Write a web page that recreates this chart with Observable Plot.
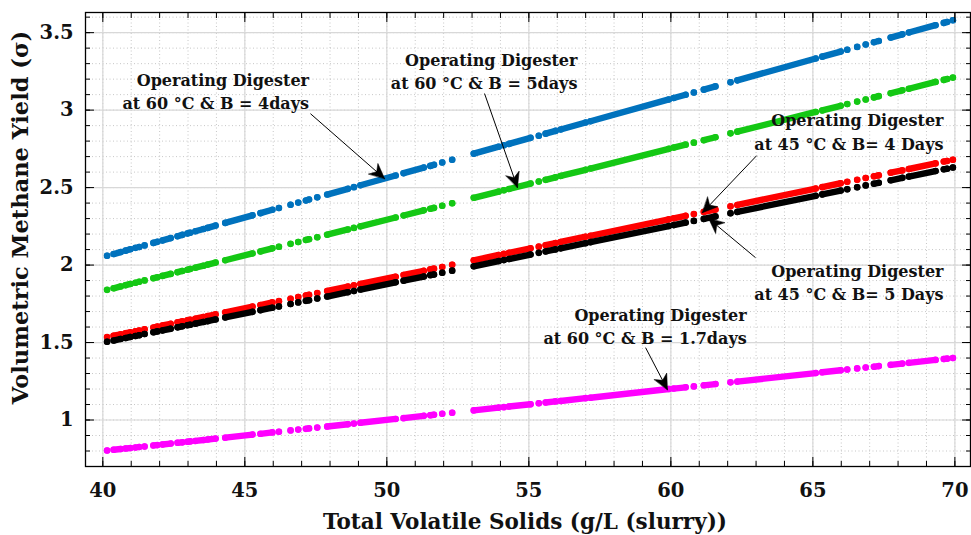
<!DOCTYPE html>
<html>
<head>
<meta charset="utf-8">
<script src="https://cdn.jsdelivr.net/npm/d3@7"></script>
<script src="https://cdn.jsdelivr.net/npm/@observablehq/plot@0.6"></script>
<style>
  body { margin: 0; background: #fff; }
  #chart svg { display: block; }
</style>
</head>
<body>
<div id="chart"></div>
<script>
// Total volatile solids (g/L slurry) at which each series was evaluated.
const tvs = [40.15, 40.38, 40.63, 40.80, 40.97, 41.15, 41.28, 41.47, 41.78, 41.92,
  42.10, 42.39, 42.63, 42.80, 42.98, 43.08, 43.26, 43.55, 43.69, 43.97,
  44.31, 45.27, 45.55, 45.97, 46.20, 46.61, 46.88, 47.15, 47.26, 47.55,
  47.90, 48.63, 48.84, 49.07, 50.31, 50.59, 51.30, 51.53, 51.66, 51.95,
  52.30, 53.06, 53.94, 54.12, 54.30, 55.06, 55.35, 55.59, 55.94, 56.12,
  57.00, 57.17, 59.93, 60.10, 60.52, 60.81, 61.16, 61.57, 62.10, 62.34,
  65.10, 65.33, 65.98, 66.21, 66.56, 66.86, 67.15, 67.32, 67.74, 68.15,
  68.38, 69.32, 69.61, 69.73, 69.93];

// Contiguous runs of samples (points sharing an id form one dash).
const run = [1, 2, 2, 3, 3, 4, 5, 6, 7, 7,
  8, 8, 9, 9, 10, 10, 11, 11, 12, 12,
  13, 13, 14, 14, 15, 16, 17, 18, 18, 19,
  20, 20, 21, 22, 22, 23, 23, 24, 24, 25,
  26, 27, 27, 28, 29, 29, 30, 31, 31, 32,
  32, 33, 33, 34, 34, 35, 36, 36, 37, 38,
  38, 39, 39, 40, 41, 42, 43, 43, 44, 44,
  45, 45, 46, 46, 47];

// Volumetric methane yield for each operating condition.
const yield60_4 = [2.060, 2.071, 2.084, 2.093, 2.102, 2.111, 2.117, 2.127, 2.143, 2.150,
  2.159, 2.174, 2.186, 2.195, 2.204, 2.209, 2.218, 2.233, 2.240, 2.255,
  2.272, 2.321, 2.335, 2.357, 2.368, 2.389, 2.403, 2.417, 2.423, 2.437,
  2.455, 2.492, 2.503, 2.515, 2.578, 2.593, 2.629, 2.640, 2.647, 2.662,
  2.680, 2.719, 2.764, 2.773, 2.782, 2.821, 2.835, 2.848, 2.866, 2.875,
  2.920, 2.928, 3.069, 3.078, 3.099, 3.114, 3.132, 3.153, 3.180, 3.192,
  3.333, 3.345, 3.378, 3.390, 3.408, 3.423, 3.438, 3.446, 3.468, 3.489,
  3.501, 3.548, 3.563, 3.569, 3.580];
const yield60_5 = [1.840, 1.850, 1.862, 1.870, 1.878, 1.886, 1.892, 1.901, 1.915, 1.921,
  1.930, 1.943, 1.954, 1.962, 1.970, 1.975, 1.983, 1.996, 2.003, 2.016,
  2.031, 2.075, 2.088, 2.108, 2.118, 2.137, 2.149, 2.162, 2.167, 2.180,
  2.196, 2.230, 2.240, 2.250, 2.307, 2.320, 2.353, 2.363, 2.369, 2.383,
  2.399, 2.434, 2.474, 2.483, 2.491, 2.526, 2.539, 2.550, 2.566, 2.575,
  2.615, 2.623, 2.750, 2.758, 2.777, 2.790, 2.806, 2.825, 2.850, 2.861,
  2.988, 2.998, 3.028, 3.039, 3.055, 3.069, 3.082, 3.090, 3.109, 3.128,
  3.138, 3.182, 3.195, 3.201, 3.210];
const yield45_4 = [1.535, 1.544, 1.553, 1.560, 1.566, 1.573, 1.578, 1.586, 1.597, 1.603,
  1.610, 1.621, 1.630, 1.637, 1.644, 1.647, 1.654, 1.665, 1.671, 1.682,
  1.695, 1.732, 1.742, 1.759, 1.767, 1.783, 1.794, 1.804, 1.808, 1.819,
  1.833, 1.861, 1.869, 1.878, 1.925, 1.936, 1.963, 1.972, 1.977, 1.988,
  2.002, 2.031, 2.065, 2.072, 2.079, 2.108, 2.119, 2.128, 2.142, 2.149,
  2.183, 2.189, 2.295, 2.302, 2.318, 2.329, 2.343, 2.358, 2.379, 2.388,
  2.494, 2.503, 2.528, 2.537, 2.550, 2.562, 2.573, 2.579, 2.596, 2.611,
  2.620, 2.656, 2.668, 2.672, 2.680];
const yield45_5 = [1.505, 1.513, 1.523, 1.529, 1.536, 1.542, 1.547, 1.555, 1.566, 1.572,
  1.578, 1.589, 1.598, 1.605, 1.612, 1.615, 1.622, 1.633, 1.638, 1.649,
  1.662, 1.698, 1.709, 1.725, 1.733, 1.749, 1.759, 1.769, 1.773, 1.784,
  1.797, 1.825, 1.833, 1.842, 1.889, 1.899, 1.926, 1.935, 1.939, 1.950,
  1.964, 1.992, 2.026, 2.032, 2.039, 2.068, 2.079, 2.088, 2.101, 2.108,
  2.141, 2.148, 2.252, 2.258, 2.274, 2.285, 2.298, 2.314, 2.334, 2.343,
  2.447, 2.456, 2.481, 2.489, 2.502, 2.514, 2.525, 2.531, 2.547, 2.563,
  2.571, 2.607, 2.618, 2.622, 2.630];
const yield60_17 = [0.803, 0.808, 0.813, 0.816, 0.819, 0.823, 0.826, 0.829, 0.836, 0.838,
  0.842, 0.848, 0.853, 0.856, 0.860, 0.862, 0.865, 0.871, 0.874, 0.880,
  0.886, 0.906, 0.911, 0.920, 0.924, 0.933, 0.938, 0.943, 0.946, 0.951,
  0.958, 0.973, 0.977, 0.982, 1.007, 1.012, 1.027, 1.031, 1.034, 1.040,
  1.047, 1.062, 1.080, 1.083, 1.087, 1.102, 1.108, 1.113, 1.120, 1.123,
  1.141, 1.144, 1.200, 1.203, 1.211, 1.217, 1.224, 1.232, 1.243, 1.248,
  1.303, 1.308, 1.321, 1.326, 1.333, 1.339, 1.344, 1.348, 1.356, 1.364,
  1.369, 1.388, 1.394, 1.396, 1.400];

// Axis ticks
const xMajor = [40, 45, 50, 55, 60, 65, 70];
const xMinor = [40, 41, 42, 43, 44, 45, 46, 47, 48, 49, 50, 51, 52, 53, 54, 55,
  56, 57, 58, 59, 60, 61, 62, 63, 64, 65, 66, 67, 68, 69, 70];
const yMajor = [1, 1.5, 2, 2.5, 3, 3.5];
const yMinor = [0.7, 0.8, 0.9, 1.0, 1.1, 1.2, 1.3, 1.4, 1.5, 1.6, 1.7, 1.8, 1.9, 2.0,
  2.1, 2.2, 2.3, 2.4, 2.5, 2.6, 2.7, 2.8, 2.9, 3.0, 3.1, 3.2, 3.3, 3.4, 3.5, 3.6];
const xTitle = "Total Volatile Solids (g/L (slurry))";
const yTitle = "Volumetric Methane Yield (σ)";

// Callouts: label block (right edge, vertical middle) and arrow tail → tip
const noteText = [
  "Operating Digester\nat 60 °C & B = 4days",
  "Operating Digester\nat 60 °C & B = 5days",
  "Operating Digester\nat 45 °C & B= 4 Days",
  "Operating Digester\nat 45 °C & B= 5 Days",
  "Operating Digester\nat 60 °C & B = 1.7days"
];
const noteX = [47.26, 56.71, 69.60, 69.60, 62.67];
const noteY = [3.129, 3.258, 2.868, 1.899, 1.615];
const tailX = [47.31, 53.44, 63.02, 62.98, 59.11];
const tailY = [2.977, 3.107, 2.706, 2.048, 1.467];
const tipX = [49.92, 54.60, 61.11, 61.33, 59.88];
const tipY = [2.558, 2.500, 2.338, 2.300, 1.196];

// Frame geometry
const W = 971, H = 535;
const M = {top: 12, right: 1, bottom: 69, left: 85};
const xDomain = [39.39, 70.55];
const yDomain = [0.70, 3.63];
const kx = (W - M.left - M.right) / (xDomain[1] - xDomain[0]);
const ky = (H - M.top - M.bottom) / (yDomain[1] - yDomain[0]);

const series = [
  {values: yield60_17, color: "#ff00ff"},
  {values: yield60_4, color: "#0072bd"},
  {values: yield60_5, color: "#14c814"},
  {values: yield45_4, color: "#ff0000"},
  {values: yield45_5, color: "#000000"}
];

const rows = (values) => tvs.map((x, i) => ({x, y: values[i], run: run[i]}));

const notes = noteText.map((text, i) => ({
  text, x: noteX[i], y: noteY[i],
  x1: tailX[i], y1: tailY[i], x2: tipX[i], y2: tipY[i],
  angle: Math.atan2((tipX[i] - tailX[i]) * kx, (tipY[i] - tailY[i]) * ky) * 180 / Math.PI
}));

// Filled arrowhead with a notched back, tip at the vector's end
const arrowHead = {
  draw(context, l) {
    const len = 15, half = 7;
    context.moveTo(0, -l);
    context.lineTo(-half, -l + len);
    context.lineTo(0, -l + len * 0.7);
    context.lineTo(half, -l + len);
    context.closePath();
  }
};

const font = "DejaVu Serif";

const chart = Plot.plot({
  width: W,
  height: H,
  marginTop: M.top,
  marginRight: M.right,
  marginBottom: M.bottom,
  marginLeft: M.left,
  x: {domain: xDomain},
  y: {domain: yDomain},
  style: {fontFamily: font, background: "white", overflow: "visible"},
  marks: [
    Plot.gridX(xMinor, {stroke: "#999", strokeOpacity: 0.55, strokeDasharray: "1,2.5"}),
    Plot.gridY(yMinor, {stroke: "#999", strokeOpacity: 0.55, strokeDasharray: "1,2.5"}),
    Plot.gridX(xMajor, {stroke: "#d8d8d8", strokeOpacity: 1, strokeWidth: 1.2}),
    Plot.gridY(yMajor, {stroke: "#d8d8d8", strokeOpacity: 1, strokeWidth: 1.2}),

    ...series.flatMap(({values, color}) => [
      Plot.line(rows(values), {x: "x", y: "y", z: "run", stroke: color, strokeWidth: 6.4, strokeLinecap: "round"}),
      Plot.dot(rows(values), {x: "x", y: "y", r: 3.3, fill: color})
    ]),

    // inward ticks on all four sides
    Plot.axisX(xMinor, {anchor: "bottom", tickSize: -5, tickFormat: () => "", label: null}),
    Plot.axisX(xMajor, {anchor: "bottom", tickSize: -9, tickFormat: () => "", label: null}),
    Plot.axisX(xMinor, {anchor: "top", tickSize: -5, tickFormat: () => "", label: null}),
    Plot.axisX(xMajor, {anchor: "top", tickSize: -9, tickFormat: () => "", label: null}),
    Plot.axisY(yMinor, {anchor: "left", tickSize: -5, tickFormat: () => "", label: null}),
    Plot.axisY(yMajor, {anchor: "left", tickSize: -9, tickFormat: () => "", label: null}),
    Plot.axisY(yMinor, {anchor: "right", tickSize: -5, tickFormat: () => "", label: null}),
    Plot.axisY(yMajor, {anchor: "right", tickSize: -9, tickFormat: () => "", label: null}),

    // tick labels
    Plot.axisX(xMajor, {anchor: "bottom", tickSize: 0, tickPadding: 17, tickFormat: d => String(d),
      fontSize: 19.5, fontWeight: "bold", fill: "#111", label: null}),
    Plot.axisY(yMajor, {anchor: "left", tickSize: 0, tickPadding: 12, tickFormat: d => String(d),
      fontSize: 19.5, fontWeight: "bold", fill: "#111", label: null}),

    Plot.frame({stroke: "#000", strokeWidth: 1.3}),

    // axis titles
    Plot.text([xTitle], {frameAnchor: "bottom", textAnchor: "middle", lineAnchor: "middle", dx: -3, dy: 56,
      text: d => d, fontSize: 21.5, fontWeight: "bold", fill: "#111"}),
    Plot.text([yTitle], {frameAnchor: "left", textAnchor: "middle", lineAnchor: "middle", dx: -65, dy: -22,
      rotate: -90, text: d => d, fontSize: 22.5, fontWeight: "bold", fill: "#111"}),

    // callouts
    Plot.link(notes, {x1: "x1", y1: "y1", x2: "x2", y2: "y2", stroke: "#000", strokeWidth: 1}),
    Plot.vector(notes, {x: "x2", y: "y2", rotate: "angle", length: 15, anchor: "end", shape: arrowHead,
      fill: "#000", stroke: "#000", strokeWidth: 0.5}),
    Plot.text(notes, {x: "x", y: "y", text: "text", textAnchor: "end", lineAnchor: "middle", lineHeight: 1.45,
      fontSize: 16, fontWeight: "bold", fill: "#111"})
  ]
});

document.getElementById("chart").appendChild(chart);
</script>
</body>
</html>
